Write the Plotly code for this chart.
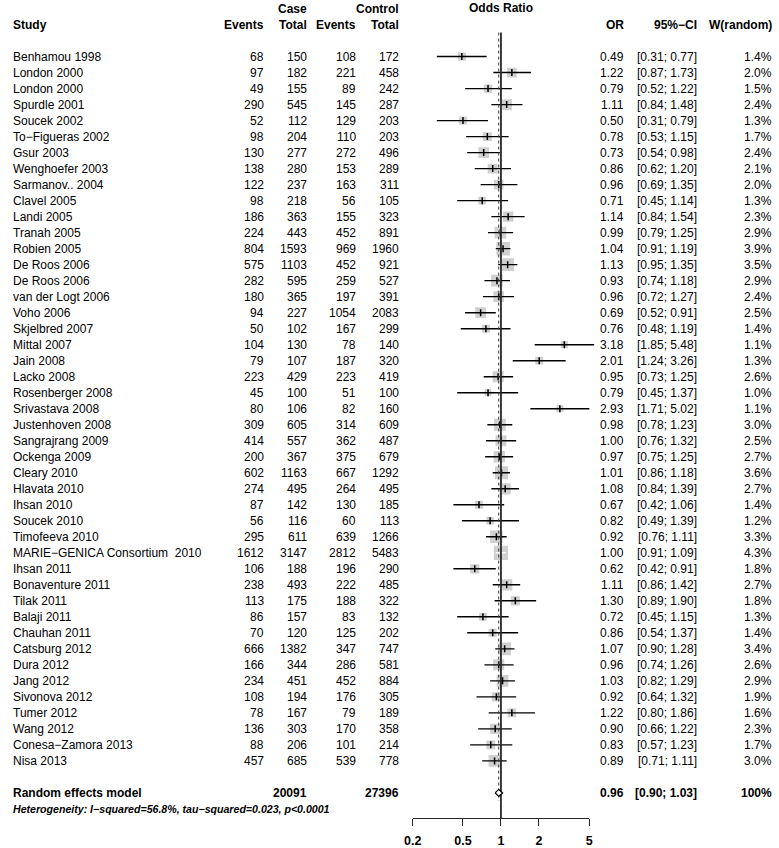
import numpy as np
import plotly.graph_objects as go

# ---------------- data ----------------
studies = [
    "Benhamou 1998", "London 2000", "London 2000", "Spurdle 2001", "Soucek 2002",
    "To−Figueras 2002", "Gsur 2003", "Wenghoefer 2003", "Sarmanov.. 2004", "Clavel 2005",
    "Landi 2005", "Tranah 2005", "Robien 2005", "De Roos 2006", "De Roos 2006",
    "van der Logt 2006", "Voho 2006", "Skjelbred 2007", "Mittal 2007", "Jain 2008",
    "Lacko 2008", "Rosenberger 2008", "Srivastava 2008", "Justenhoven 2008", "Sangrajrang 2009",
    "Ockenga 2009", "Cleary 2010", "Hlavata 2010", "Ihsan 2010", "Soucek 2010",
    "Timofeeva 2010", "MARIE−GENICA Consortium  2010", "Ihsan 2011", "Bonaventure 2011", "Tilak 2011",
    "Balaji 2011", "Chauhan 2011", "Catsburg 2012", "Dura 2012", "Jang 2012",
    "Sivonova 2012", "Tumer 2012", "Wang 2012", "Conesa−Zamora 2013", "Nisa 2013",
]
case_events = [68, 97, 49, 290, 52, 98, 130, 138, 122, 98, 186, 224, 804, 575, 282, 180, 94, 50, 104, 79,
               223, 45, 80, 309, 414, 200, 602, 274, 87, 56, 295, 1612, 106, 238, 113, 86, 70, 666, 166, 234,
               108, 78, 136, 88, 457]
case_total = [150, 182, 155, 545, 112, 204, 277, 280, 237, 218, 363, 443, 1593, 1103, 595, 365, 227, 102, 130, 107,
              429, 100, 106, 605, 557, 367, 1163, 495, 142, 116, 611, 3147, 188, 493, 175, 157, 120, 1382, 344, 451,
              194, 167, 303, 206, 685]
ctrl_events = [108, 221, 89, 145, 129, 110, 272, 153, 163, 56, 155, 452, 969, 452, 259, 197, 1054, 167, 78, 187,
               223, 51, 82, 314, 362, 375, 667, 264, 130, 60, 639, 2812, 196, 222, 188, 83, 125, 347, 286, 452,
               176, 79, 170, 101, 539]
ctrl_total = [172, 458, 242, 287, 203, 203, 496, 289, 311, 105, 323, 891, 1960, 921, 527, 391, 2083, 299, 140, 320,
              419, 100, 160, 609, 487, 679, 1292, 495, 185, 113, 1266, 5483, 290, 485, 322, 132, 202, 747, 581, 884,
              305, 189, 358, 214, 778]
or_est = [0.49, 1.22, 0.79, 1.11, 0.50, 0.78, 0.73, 0.86, 0.96, 0.71, 1.14, 0.99, 1.04, 1.13, 0.93, 0.96, 0.69, 0.76,
          3.18, 2.01, 0.95, 0.79, 2.93, 0.98, 1.00, 0.97, 1.01, 1.08, 0.67, 0.82, 0.92, 1.00, 0.62, 1.11, 1.30, 0.72,
          0.86, 1.07, 0.96, 1.03, 0.92, 1.22, 0.90, 0.83, 0.89]
ci_lo = [0.31, 0.87, 0.52, 0.84, 0.31, 0.53, 0.54, 0.62, 0.69, 0.45, 0.84, 0.79, 0.91, 0.95, 0.74, 0.72, 0.52, 0.48,
         1.85, 1.24, 0.73, 0.45, 1.71, 0.78, 0.76, 0.75, 0.86, 0.84, 0.42, 0.49, 0.76, 0.91, 0.42, 0.86, 0.89, 0.45,
         0.54, 0.90, 0.74, 0.82, 0.64, 0.80, 0.66, 0.57, 0.71]
ci_hi = [0.77, 1.73, 1.22, 1.48, 0.79, 1.15, 0.98, 1.20, 1.35, 1.14, 1.54, 1.25, 1.19, 1.35, 1.18, 1.27, 0.91, 1.19,
         5.48, 3.26, 1.25, 1.37, 5.02, 1.23, 1.32, 1.25, 1.18, 1.39, 1.06, 1.39, 1.11, 1.09, 0.91, 1.42, 1.90, 1.15,
         1.37, 1.28, 1.26, 1.29, 1.32, 1.86, 1.22, 1.23, 1.11]
weight = [1.4, 2.0, 1.5, 2.4, 1.3, 1.7, 2.4, 2.1, 2.0, 1.3, 2.3, 2.9, 3.9, 3.5, 2.9, 2.4, 2.5, 1.4, 1.1, 1.3,
          2.6, 1.0, 1.1, 3.0, 2.5, 2.7, 3.6, 2.7, 1.4, 1.2, 3.3, 4.3, 1.8, 2.7, 1.8, 1.3, 1.4, 3.4, 2.6, 2.9,
          1.9, 1.6, 2.3, 1.7, 3.0]

pooled_label = "Random effects model"
pooled_or, pooled_lo, pooled_hi = 0.96, 0.90, 1.03
pooled_case_total, pooled_ctrl_total = 20091, 27396
heterogeneity = "Heterogeneity: I−squared=56.8%, tau−squared=0.023, p<0.0001"
axis_ticks = [0.2, 0.5, 1, 2, 5]
axis_ticktext = ["0.2", "0.5", "1", "2", "5"]

# ---------------- layout constants (pixels) ----------------
W, H = 779, 848
ROW0_PX = 56.7          # pixel centre of first study row
ROW_H = 16.045          # pixel height of a row
PLOT_BOTTOM_PX = 820    # pixel of the x axis line
X1_PX = 500.3           # pixel of OR = 1
DEC_PX = 128.3          # pixels per decade
MAX_BOX = 14.2          # box side for the largest weight
FONT = "Liberation Sans, Arial, Helvetica, sans-serif"
FS = 12

n = len(studies)
rows = np.arange(1, n + 1)
pooled_row = n + 2
het_row = n + 3
hdr1_row, hdr2_row = -2.0, -1.0

y_top = 1 - ROW0_PX / ROW_H
y_bot = 1 + (PLOT_BOTTOM_PX - ROW0_PX) / ROW_H

fig = go.Figure()

# squares (area ~ weight)
wmax = max(weight)
box_sizes = [MAX_BOX * np.sqrt(w / wmax) for w in weight]
fig.add_trace(go.Scatter(
    x=or_est, y=rows, mode="markers", xaxis="x", yaxis="y",
    marker=dict(symbol="square", size=box_sizes, color="rgb(188,188,188)", line=dict(width=0)),
    hoverinfo="skip", showlegend=False))

# CI lines; white when the interval is contained in the box
lx_b, ly_b, lx_w, ly_w = [], [], [], []
tx_b, ty_b, tx_w, ty_w = [], [], [], []
for i in range(n):
    half = box_sizes[i] / 2.0
    lo_px = DEC_PX * np.log10(or_est[i] / ci_lo[i])
    hi_px = DEC_PX * np.log10(ci_hi[i] / or_est[i])
    inside = lo_px < half and hi_px < half
    if inside:
        lx_w += [ci_lo[i], ci_hi[i], None]; ly_w += [rows[i], rows[i], None]
        tx_w.append(or_est[i]); ty_w.append(rows[i])
    else:
        lx_b += [ci_lo[i], ci_hi[i], None]; ly_b += [rows[i], rows[i], None]
        tx_b.append(or_est[i]); ty_b.append(rows[i])

fig.add_trace(go.Scatter(x=lx_b, y=ly_b, mode="lines", line=dict(color="black", width=1.4),
                         hoverinfo="skip", showlegend=False))
fig.add_trace(go.Scatter(x=lx_w, y=ly_w, mode="lines", line=dict(color="white", width=1.4),
                         hoverinfo="skip", showlegend=False))
fig.add_trace(go.Scatter(x=tx_b, y=ty_b, mode="markers",
                         marker=dict(symbol="line-ns", size=5, line=dict(color="black", width=1.5)),
                         hoverinfo="skip", showlegend=False))
fig.add_trace(go.Scatter(x=tx_w, y=ty_w, mode="markers",
                         marker=dict(symbol="line-ns", size=5, line=dict(color="white", width=1.5)),
                         hoverinfo="skip", showlegend=False))

# reference lines on the axis subplot
fig.add_trace(go.Scatter(x=[1, 1], y=[-0.5, y_bot], mode="lines", xaxis="x2", yaxis="y",
                         line=dict(color="rgb(40,40,40)", width=1.8), hoverinfo="skip", showlegend=False))
fig.add_trace(go.Scatter(x=[pooled_or, pooled_or], y=[-0.5, pooled_row + 0.5], mode="lines", xaxis="x2", yaxis="y",
                         line=dict(color="rgb(60,60,60)", width=1, dash="dot"), hoverinfo="skip", showlegend=False))

# pooled diamond
dh = 0.22
fig.add_trace(go.Scatter(
    x=[pooled_lo, pooled_or, pooled_hi, pooled_or, pooled_lo],
    y=[pooled_row, pooled_row - dh, pooled_row, pooled_row + dh, pooled_row],
    mode="lines", fill="toself", fillcolor="white", xaxis="x2", yaxis="y",
    line=dict(color="black", width=1.3), hoverinfo="skip", showlegend=False))

# ---------------- text table ----------------
ann = []

def txt(xpx, row, s, anchor="right", bold=False, size=FS, italic=False):
    ann.append(dict(
        x=xpx / W, xref="paper", y=row, yref="y", text=s, showarrow=False,
        xanchor=anchor, yanchor="middle",
        font=dict(family=FONT, size=size, color="black",
                  weight="bold" if bold else "normal",
                  style="italic" if italic else "normal")))

COL_STUDY = 2
COL_CE, COL_CT, COL_KE, COL_KT = 261.5, 305, 354.5, 399
COL_OR, COL_CI, COL_W = 627, 702, 778

# headers
txt(COL_STUDY, hdr2_row, "Study", "left", bold=True)
txt(COL_CT, hdr1_row, "Case", bold=True)
txt(COL_KT, hdr1_row, "Control", bold=True)
txt(COL_CE, hdr2_row, "Events", bold=True)
txt(COL_CT, hdr2_row, "Total", bold=True)
txt(COL_KE, hdr2_row, "Events", bold=True)
txt(COL_KT, hdr2_row, "Total", bold=True)
txt(COL_OR, hdr2_row, "OR", bold=True)
txt(COL_CI, hdr2_row, "95%−CI", bold=True)
txt(COL_W, hdr2_row, "W(random)", bold=True)
ann.append(dict(x=0, xref="x2", y=hdr1_row - 0.05, yref="y", text="Odds Ratio", showarrow=False,
                xanchor="center", yanchor="middle",
                font=dict(family=FONT, size=FS, color="black", weight="bold")))

for i in range(n):
    r = rows[i]
    txt(COL_STUDY, r, studies[i], "left")
    txt(COL_CE, r, str(case_events[i]))
    txt(COL_CT, r, str(case_total[i]))
    txt(COL_KE, r, str(ctrl_events[i]))
    txt(COL_KT, r, str(ctrl_total[i]))
    txt(COL_OR, r, f"{or_est[i]:.2f}")
    txt(COL_CI, r, f"[{ci_lo[i]:.2f}; {ci_hi[i]:.2f}]")
    txt(COL_W, r, f"{weight[i]:.1f}%")

txt(COL_STUDY, pooled_row, pooled_label, "left", bold=True)
txt(COL_CT, pooled_row, str(pooled_case_total), bold=True)
txt(COL_KT, pooled_row, str(pooled_ctrl_total), bold=True)
txt(COL_OR, pooled_row, f"{pooled_or:.2f}", bold=True)
txt(COL_CI, pooled_row, f"[{pooled_lo:.2f}; {pooled_hi:.2f}]", bold=True)
txt(COL_W, pooled_row, "100%", bold=True)
txt(COL_STUDY, het_row, heterogeneity, "left", bold=True, size=10.6, italic=True)

# ---------------- axes ----------------
RNG = 0.85
lo_t, hi_t = np.log10(min(axis_ticks)), np.log10(max(axis_ticks))
fig.update_layout(
    width=W, height=H, margin=dict(l=0, r=0, t=0, b=0),
    paper_bgcolor="white", plot_bgcolor="rgba(0,0,0,0)",
    showlegend=False,
    xaxis=dict(type="log", range=[-RNG, RNG],
               domain=[(X1_PX - RNG * DEC_PX) / W, (X1_PX + RNG * DEC_PX) / W],
               visible=False, fixedrange=True),
    xaxis2=dict(type="log", range=[lo_t, hi_t],
                domain=[(X1_PX + lo_t * DEC_PX) / W, (X1_PX + hi_t * DEC_PX) / W],
                anchor="y", showline=True, linecolor="rgb(40,40,40)", linewidth=1.2,
                showgrid=False, zeroline=False,
                tickmode="array", tickvals=axis_ticks, ticktext=axis_ticktext,
                ticks="outside", ticklen=7, tickwidth=1.2, tickcolor="rgb(40,40,40)",
                ticklabelstandoff=4,
                tickfont=dict(family=FONT, size=12.5, color="black", weight="bold"),
                fixedrange=True),
    yaxis=dict(range=[y_bot, y_top], domain=[1 - PLOT_BOTTOM_PX / H, 1],
               visible=False, fixedrange=True),
    annotations=ann,
)

fig.write_html("out.html", config={"displayModeBar": False},
               post_script="document.body.style.margin='0';document.body.style.overflow='hidden';")
